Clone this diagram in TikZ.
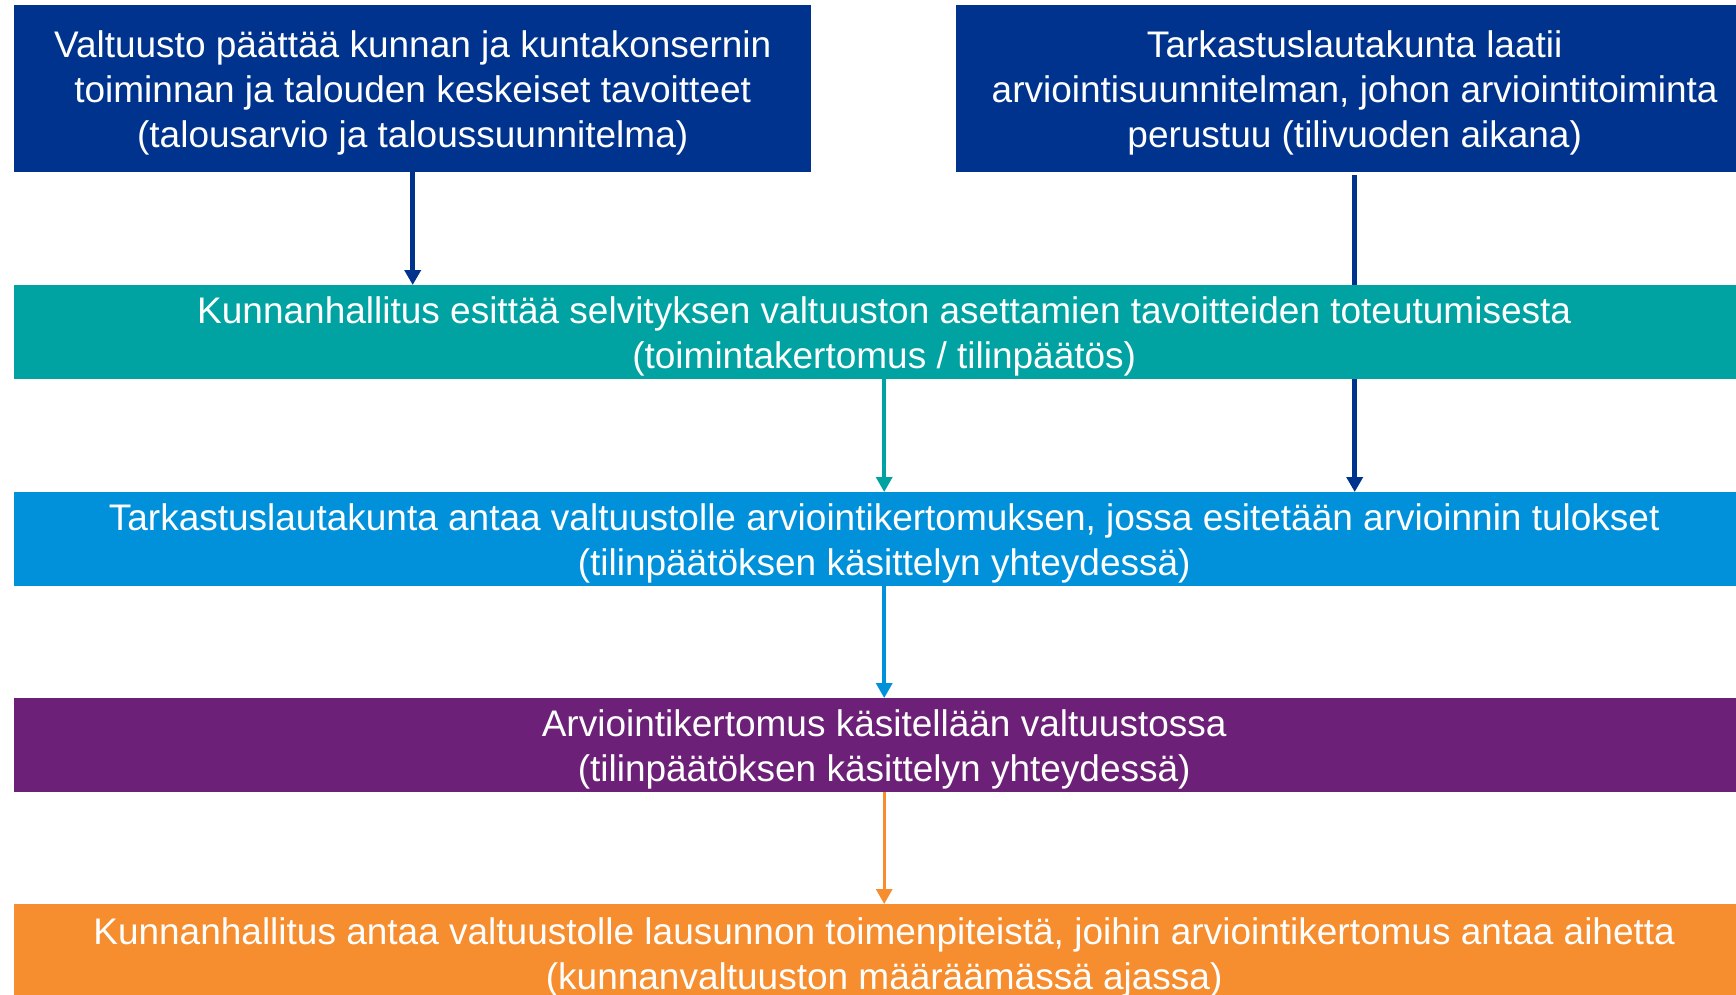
\documentclass[tikz,border=0pt]{standalone}
\usepackage{fontspec}
\setmainfont{Liberation Sans}
\usepackage{tikz}
\usetikzlibrary{arrows.meta,backgrounds}

\definecolor{kdark}{HTML}{00338D}
\definecolor{kteal}{HTML}{00A3A1}
\definecolor{kblue}{HTML}{0091DA}
\definecolor{kpurple}{HTML}{6D2077}
\definecolor{korange}{HTML}{F68D2E}

\tikzset{
  box/.style={rectangle, anchor=north west, inner sep=0pt, align=center, text=white,
    text depth=0pt, font=\fontsize{37}{45}\selectfont},
  topbox/.style={box, fill=kdark, minimum width=797pt, minimum height=167pt},
  widebox/.style={box, minimum width=1740pt, minimum height=94pt},
}

\begin{document}
\begin{tikzpicture}[line cap=butt,>={Triangle[width=16pt,length=15pt]},x=1pt,y=-1pt]
        \useasboundingbox (0,0) rectangle (1736,994);
        \clip (0,0) rectangle (1736,994);
        \node [topbox] (valt) at (14,5) {Valtuusto päättää kunnan ja kuntakonsernin\\toiminnan ja talouden keskeiset tavoitteet\\(talousarvio ja taloussuunnitelma)};
        \node [topbox] (tark) at (956,5) {Tarkastuslautakunta laatii\\arviointisuunnitelman, johon arviointitoiminta\\perustuu (tilivuoden aikana)};
        \node [widebox,fill=kteal] (khall) at (14,285) {Kunnanhallitus esittää selvityksen valtuuston asettamien tavoitteiden toteutumisesta\\(toimintakertomus / tilinpäätös)};
        \node [widebox,fill=kblue] (arvio) at (14,492) {Tarkastuslautakunta antaa valtuustolle arviointikertomuksen, jossa esitetään arvioinnin tulokset\\(tilinpäätöksen käsittelyn yhteydessä)};
        \node [widebox,fill=kpurple] (kasit) at (14,698) {Arviointikertomus käsitellään valtuustossa\\(tilinpäätöksen käsittelyn yhteydessä)};
        \node [widebox,fill=korange,minimum height=98pt] (lausu) at (14,904) {Kunnanhallitus antaa valtuustolle lausunnon toimenpiteistä, joihin arviointikertomus antaa aihetta\\(kunnanvaltuuston määräämässä ajassa)};
        % connectors
        \draw [->,kdark,line width=4.5pt] (valt.south) -- (valt.south |- khall.north);
        \begin{scope}[on background layer]
        \draw [->,kdark,line width=4.5pt] ([yshift=-3pt]tark.south) -- (tark.south |- arvio.north);
        \end{scope}
        \draw [->,kteal,line width=3.5pt] (khall.south) -- (arvio.north);
        \draw [->,kblue,line width=3.5pt] (arvio.south) -- (kasit.north);
        \draw [->,korange,line width=3pt] (kasit.south) -- (lausu.north);
    \end{tikzpicture}
\end{document}
